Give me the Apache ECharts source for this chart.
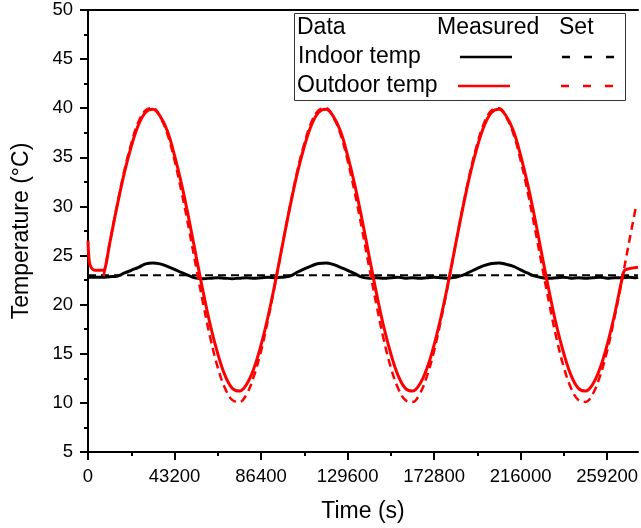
<!DOCTYPE html>
<html>
<head>
<meta charset="utf-8">
<script src="https://cdn.jsdelivr.net/npm/echarts@6/dist/echarts.min.js"></script>
<style>
html,body{margin:0;padding:0;background:#fff;}
#chart{width:641px;height:528px;}
</style>
</head>
<body>
<div id="chart"></div>
<script>
// ---- data ----
const xTicks = [0, 43200, 86400, 129600, 172800, 216000, 259200];
const xMinorTicks = [21600, 64800, 108000, 151200, 194400, 237600];
const xMax = 274600;
const yTicks = [5, 10, 15, 20, 25, 30, 35, 40, 45, 50];

const indoorSetTime = [0, 274600];
const indoorSet = [23.0, 23.0];

const indoorMeasTime = [
  0, 3600, 7200, 10800, 14400, 18000, 21600, 25200, 28800, 32400,
  36000, 39600, 43200, 46800, 50400, 54000, 57600, 61200, 64800, 68400,
  72000, 75600, 79200, 82800, 86400, 90000, 93600, 97200, 100800, 104400,
  108000, 111600, 115200, 118800, 122400, 126000, 129600, 133200, 136800, 140400,
  144000, 147600, 151200, 154800, 158400, 162000, 165600, 169200, 172800, 176400,
  180000, 183600, 187200, 190800, 194400, 198000, 201600, 205200, 208800, 212400,
  216000, 219600, 223200, 226800, 230400, 234000, 237600, 241200, 244800, 248400,
  252000, 255600, 259200, 262800, 266400, 270000, 273600, 274600
];
const indoorMeas = [
  22.8, 22.8, 22.8, 22.85, 22.9, 23.2, 23.5, 23.8, 24.15, 24.25,
  24.15, 23.9, 23.6, 23.25, 22.95, 22.7, 22.65, 22.7, 22.75, 22.7,
  22.65, 22.7, 22.75, 22.7, 22.75, 22.8, 22.75, 22.8, 22.9, 23.3,
  23.65, 23.95, 24.2, 24.25, 24.1, 23.8, 23.5, 23.15, 22.8, 22.7,
  22.75, 22.7, 22.75, 22.8, 22.7, 22.75, 22.7, 22.75, 22.8, 22.75,
  22.7, 22.8, 23.0, 23.35, 23.7, 24.0, 24.2, 24.25, 24.1, 23.9,
  23.55, 23.2, 22.9, 22.75, 22.7, 22.75, 22.8, 22.7, 22.75, 22.7,
  22.75, 22.8, 22.7, 22.75, 22.75, 22.8, 22.75, 22.8
];

const outdoorMeasTime = [
  0, 600, 1500, 3600, 7200, 8400, 10800, 14400, 18000, 21600,
  25200, 28800, 32400, 36000, 39600, 43200, 46800, 50400, 54000, 57600,
  61200, 64800, 68400, 72000, 75600, 79200, 82800, 86400, 90000, 93600,
  97200, 100800, 104400, 108000, 111600, 115200, 118800, 122400, 126000, 129600,
  133200, 136800, 140400, 144000, 147600, 151200, 154800, 158400, 162000, 165600,
  169200, 172800, 176400, 180000, 183600, 187200, 190800, 194400, 198000, 201600,
  205200, 208800, 212400, 216000, 219600, 223200, 226800, 230400, 234000, 237600,
  241200, 244800, 248400, 252000, 255600, 259200, 262800, 266400, 267600, 269000,
  274600
];
const outdoorMeas = [
  26.5, 24.5, 23.8, 23.5, 23.5, 23.6, 26.2, 29.9, 33.3, 36.1,
  38.3, 39.6, 39.9, 39.2, 37.7, 35.2, 32.2, 28.7, 24.9, 21.2,
  17.8, 15.0, 12.8, 11.5, 11.2, 11.9, 13.5, 15.9, 18.9, 22.4,
  26.2, 29.9, 33.3, 36.1, 38.3, 39.6, 39.9, 39.2, 37.7, 35.2,
  32.2, 28.7, 24.9, 21.2, 17.8, 15.0, 12.8, 11.5, 11.2, 11.9,
  13.5, 15.9, 18.9, 22.4, 26.2, 29.9, 33.3, 36.1, 38.3, 39.6,
  39.9, 39.2, 37.7, 35.2, 32.2, 28.7, 24.9, 21.2, 17.8, 15.0,
  12.8, 11.5, 11.2, 11.9, 13.5, 15.9, 18.9, 22.4, 23.4, 23.6,
  23.8
];

const outdoorSetTime = [
  7800, 10800, 14400, 18000, 21600, 25200, 28800, 32400, 36000, 39600,
  43200, 46800, 50400, 54000, 57600, 61200, 64800, 68400, 72000, 75600,
  79200, 82800, 86400, 90000, 93600, 97200, 100800, 104400, 108000, 111600,
  115200, 118800, 122400, 126000, 129600, 133200, 136800, 140400, 144000, 147600,
  151200, 154800, 158400, 162000, 165600, 169200, 172800, 176400, 180000, 183600,
  187200, 190800, 194400, 198000, 201600, 205200, 208800, 212400, 216000, 219600,
  223200, 226800, 230400, 234000, 237600, 241200, 244800, 248400, 252000, 255600,
  259200, 262800, 266400, 270000, 273600
];
const outdoorSet = [
  22.9, 26.2, 30.0, 33.5, 36.4, 38.6, 39.8, 40.0, 39.1, 37.4,
  34.7, 31.4, 27.7, 23.8, 20.0, 16.5, 13.6, 11.5, 10.3, 10.1,
  10.9, 12.7, 15.3, 18.6, 22.3, 26.2, 30.0, 33.5, 36.4, 38.6,
  39.8, 40.0, 39.1, 37.4, 34.7, 31.4, 27.7, 23.8, 20.0, 16.5,
  13.6, 11.5, 10.3, 10.1, 10.9, 12.7, 15.3, 18.6, 22.3, 26.2,
  30.0, 33.5, 36.4, 38.6, 39.8, 40.0, 39.1, 37.4, 34.7, 31.4,
  27.7, 23.8, 20.0, 16.5, 13.6, 11.5, 10.3, 10.1, 10.9, 12.7,
  15.3, 18.6, 22.3, 26.2, 30.0
];

const legendHeader = ['Data', 'Measured', 'Set'];
const seriesNames = ['Indoor temp', 'Outdoor temp'];

function pairs(t, v) { return t.map((x, i) => [x, v[i]]); }

const FONT = 'Liberation Sans, Arial, sans-serif';
const chart = echarts.init(document.getElementById('chart'), null, {renderer: 'canvas'});

const AX = {color: '#000', width: 2};
const option = {
  backgroundColor: '#fff',
  animation: false,
  grid: {left: 88, right: 0, top: 10, bottom: 75, show: false, containLabel: false},
  xAxis: [
    {
      type: 'value', position: 'bottom', min: xTicks[0], max: xMax,
      name: 'Time (s)', nameLocation: 'middle', nameGap: 48,
      nameTextStyle: {fontFamily: FONT, fontSize: 23, color: '#000'},
      axisLine: {show: true, onZero: false, lineStyle: AX},
      axisTick: {show: true, inside: false, length: 8, lineStyle: AX, customValues: xTicks},
      axisLabel: {fontFamily: FONT, fontSize: 18.5, color: '#000', margin: 15, customValues: xTicks,
                  formatter: v => String(v)},
      splitLine: {show: false}
    },
    {
      type: 'value', position: 'bottom', min: xTicks[0], max: xMax,
      axisLine: {show: false, onZero: false},
      axisTick: {show: true, inside: false, length: 4, lineStyle: AX, customValues: xMinorTicks},
      axisLabel: {show: false},
      splitLine: {show: false}
    },
    {
      type: 'value', position: 'top', min: xTicks[0], max: xMax,
      axisLine: {show: true, onZero: false, lineStyle: AX},
      axisTick: {show: false}, axisLabel: {show: false}, splitLine: {show: false}
    }
  ],
  yAxis: {
    type: 'value', min: yTicks[0], max: yTicks[yTicks.length - 1], interval: yTicks[1] - yTicks[0],
    name: 'Temperature (°C)', nameLocation: 'middle', nameGap: 55,
    nameTextStyle: {fontFamily: FONT, fontSize: 23, color: '#000'},
    axisLine: {show: true, onZero: false, lineStyle: AX},
    axisTick: {show: true, inside: false, length: 8, lineStyle: AX},
    minorTick: {show: true, splitNumber: 2, length: 4, lineStyle: AX},
    axisLabel: {fontFamily: FONT, fontSize: 18.5, color: '#000', margin: 15},
    splitLine: {show: false}
  },
  series: [
    {name: 'Indoor set', type: 'line', data: pairs(indoorSetTime, indoorSet), showSymbol: false,
     lineStyle: {color: '#000', width: 2, type: [8, 5]}, z: 2},
    {name: 'Indoor measured', type: 'line', data: pairs(indoorMeasTime, indoorMeas), showSymbol: false, smooth: 0.4,
     lineStyle: {color: '#000', width: 3}, z: 3},
    {name: 'Outdoor set', type: 'line', data: pairs(outdoorSetTime, outdoorSet), showSymbol: false, smooth: 0.4,
     lineStyle: {color: '#ff0000', width: 2.5, type: [8, 5]}, z: 4},
    {name: 'Outdoor measured', type: 'line', data: pairs(outdoorMeasTime, outdoorMeas), showSymbol: false, smooth: 0.4,
     lineStyle: {color: '#ff0000', width: 3}, z: 5}
  ],
  graphic: [
    {type: 'rect', shape: {x: 294.5, y: 13.5, width: 331, height: 87}, style: {fill: '#fff', stroke: '#333', lineWidth: 1}, z: 100},
    {type: 'text', left: 297, top: 16, style: {text: legendHeader[0], font: '23px ' + FONT, fill: '#000'}, z: 101},
    {type: 'text', left: 437, top: 16, style: {text: legendHeader[1], font: '23px ' + FONT, fill: '#000'}, z: 101},
    {type: 'text', left: 559, top: 16, style: {text: legendHeader[2], font: '23px ' + FONT, fill: '#000'}, z: 101},
    {type: 'text', left: 298, top: 45, style: {text: seriesNames[0], font: '23px ' + FONT, fill: '#000'}, z: 101},
    {type: 'text', left: 297, top: 74, style: {text: seriesNames[1], font: '23px ' + FONT, fill: '#000'}, z: 101},
    {type: 'line', shape: {x1: 460, y1: 57, x2: 512, y2: 57}, style: {stroke: '#000', lineWidth: 2.5}, z: 101},
    {type: 'line', shape: {x1: 562, y1: 57, x2: 614, y2: 57}, style: {stroke: '#000', lineWidth: 2.5, lineDash: [8, 14]}, z: 101},
    {type: 'line', shape: {x1: 458, y1: 86, x2: 510, y2: 86}, style: {stroke: '#ff0000', lineWidth: 2.5}, z: 101},
    {type: 'line', shape: {x1: 561, y1: 86, x2: 613, y2: 86}, style: {stroke: '#ff0000', lineWidth: 2.5, lineDash: [8, 14]}, z: 101}
  ]
};
chart.setOption(option);
</script>
</body>
</html>
